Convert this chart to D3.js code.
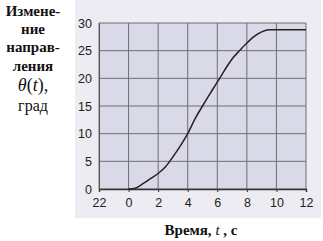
<!DOCTYPE html>
<html><head><meta charset="utf-8">
<script src="https://cdn.jsdelivr.net/npm/d3@7"></script>
<style>body{margin:0;background:#fff}svg{display:block}
.serif{font-family:'Liberation Serif','DejaVu Serif','Times New Roman',serif}
.sans{font-family:'Liberation Sans',Arial,sans-serif}</style>
</head><body>
<script>
const timeValues = [0, 0.5, 1, 1.5, 2, 2.5, 3, 3.5, 4, 4.5, 5, 5.5, 6, 6.5, 7, 7.5, 8, 8.5, 9, 9.5, 10, 11, 12];
const angleValues = [0, 0.2, 1.0, 1.9, 2.8, 4.0, 5.8, 7.8, 10, 12.7, 15, 17.2, 19.3, 21.5, 23.5, 25, 26.4, 27.6, 28.4, 28.8, 28.8, 28.8, 28.8];
const xTicks = [-2, 0, 2, 4, 6, 8, 10, 12];
const xTickLabels = ["22", "0", "2", "4", "6", "8", "10", "12"];
const yTicks = [0, 5, 10, 15, 20, 25, 30];
const yLabelLines = ["Измене-", "ние", "направ-", "ления"];
const xTitle = ["Время, ", "t", " , с"];

const W = 323, H = 241;
const svg = d3.select("body").append("svg").attr("width", W).attr("height", H);
const m = {l: 99, r: 306, t: 23, b: 189};
const x = d3.scaleLinear().domain([-2, 12]).range([m.l, m.r]);
const y = d3.scaleLinear().domain([0, 30]).range([m.b, m.t]);

svg.append("rect").attr("x", 75).attr("y", 0).attr("width", 246).attr("height", 218).attr("fill", "#ececf2");
svg.append("rect").attr("x", m.l).attr("y", m.t).attr("width", m.r - m.l).attr("height", m.b - m.t).attr("fill", "#d9d9e7");

svg.append("g").selectAll("line").data(xTicks).join("line")
  .attr("x1", d => x(d)).attr("x2", d => x(d)).attr("y1", m.t).attr("y2", m.b)
  .attr("stroke", "#6f6f7a").attr("stroke-width", 1);
svg.append("g").selectAll("line").data(yTicks).join("line")
  .attr("x1", m.l).attr("x2", m.r).attr("y1", d => y(d)).attr("y2", d => y(d))
  .attr("stroke", "#6f6f7a").attr("stroke-width", 1);

const xAxis = d3.axisBottom(x).tickValues(xTicks).tickFormat((d, i) => xTickLabels[i]).tickSize(3).tickPadding(6);
const gx = svg.append("g").attr("transform", `translate(0,${m.b})`).call(xAxis);
gx.select(".domain").attr("stroke", "#333").attr("stroke-width", 1.4);
gx.selectAll(".tick line").attr("stroke", "#333");
gx.selectAll("text").attr("class", "sans").attr("font-size", 12.5).attr("fill", "#222");

const yAxis = d3.axisLeft(y).tickValues(yTicks).tickSize(0).tickPadding(7);
const gy = svg.append("g").attr("transform", `translate(${m.l},0)`).call(yAxis);
gy.select(".domain").attr("stroke", "#555").attr("stroke-width", 1);
gy.selectAll("text").attr("class", "sans").attr("font-size", 12.5).attr("fill", "#222");

const line = d3.line().x((d, i) => x(timeValues[i])).y(d => y(d)).curve(d3.curveMonotoneX);
svg.append("path").datum(angleValues).attr("d", line)
  .attr("fill", "none").attr("stroke", "#222").attr("stroke-width", 1.5);

const lbl = svg.append("g").attr("class", "serif").attr("fill", "#111").attr("text-anchor", "middle");
const ys = [16, 34, 52, 71];
yLabelLines.forEach((s, i) => lbl.append("text").attr("x", 33).attr("y", ys[i]).attr("font-size", 15).attr("font-weight", "bold").text(s));
const th = lbl.append("text").attr("x", 33).attr("y", 91).attr("font-size", 18);
th.append("tspan").attr("font-style", "italic").text("θ");
th.append("tspan").text("(");
th.append("tspan").attr("font-style", "italic").text("t");
th.append("tspan").text("),");
lbl.append("text").attr("x", 33).attr("y", 111).attr("font-size", 16).text("град");

const xt = svg.append("text").attr("class", "serif").attr("x", 201).attr("y", 235).attr("text-anchor", "middle")
  .attr("font-size", 15).attr("font-weight", "bold").attr("fill", "#111");
xt.append("tspan").text(xTitle[0]);
xt.append("tspan").attr("font-style", "italic").attr("font-weight", "normal").text(xTitle[1]);
xt.append("tspan").text(xTitle[2]);
</script>
</body></html>
